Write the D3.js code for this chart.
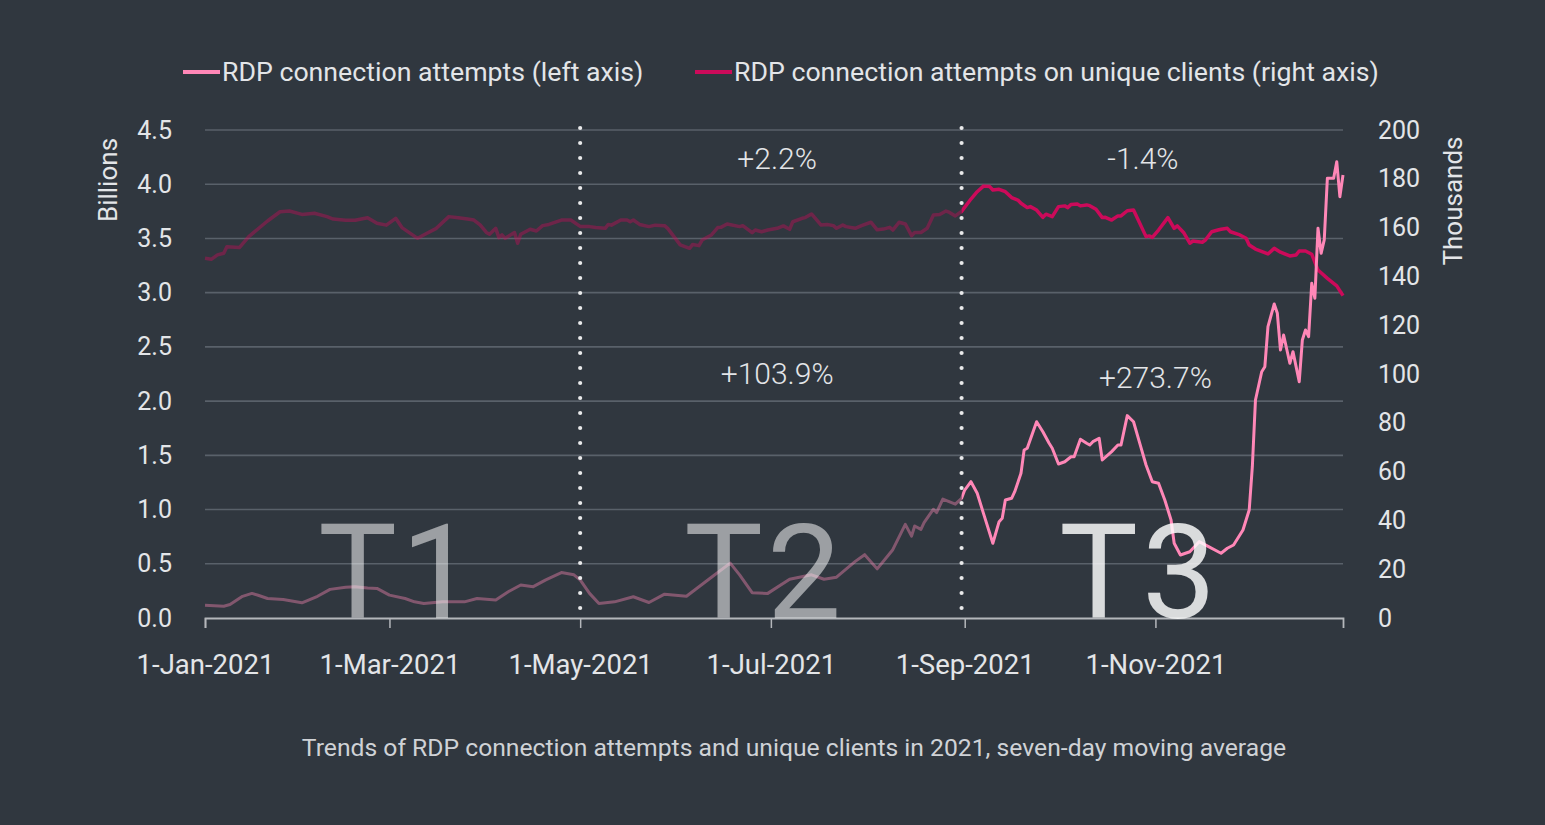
<!DOCTYPE html>
<html>
<head>
<meta charset="utf-8">
<script src="https://cdn.jsdelivr.net/npm/d3@7"></script>
<style>
  html, body { margin: 0; padding: 0; background: #30373f; }
  svg { display: block; }
  text { font-family: Roboto, "Open Sans", sans-serif; }
</style>
</head>
<body>
<svg id="chart" width="1545" height="825"></svg>
<script>
// ---------- DATA ----------
const attemptDates = ["01-01","01-07","01-09","01-13","01-16","01-18","01-21","01-26","02-01","02-06","02-10","02-15","02-18","02-22","02-25","03-01","03-06","03-09","03-12","03-18","03-25","03-29","04-04","04-08","04-12","04-16","04-20","04-25","04-29","05-01","05-04","05-07","05-12","05-18","05-23","05-28","06-04","06-12","06-18","06-21","06-25","06-30","07-07","07-14","07-18","07-22","07-28","07-31","08-04","08-09","08-13","08-15","08-16","08-18","08-19","08-22","08-23","08-25","08-29","08-31","09-01","09-03","09-05","09-07","09-10","09-12","09-13","09-14","09-16","09-17","09-19","09-20","09-21","09-24","09-26","09-28","09-29","10-01","10-03","10-05","10-06","10-08","10-10","10-11","10-12","10-14","10-15","10-18","10-20","10-21","10-23","10-25","10-27","10-29","10-31","11-02","11-04","11-06","11-07","11-09","11-12","11-15","11-18","11-22","11-24","11-26","11-29","12-01","12-02","12-03","12-05","12-06","12-07","12-09","12-10","12-11","12-12","12-14","12-15","12-17","12-18","12-19","12-20","12-21","12-22","12-23","12-24","12-25","12-26","12-28","12-29","12-30","12-31"];
const attemptValues = [0.118,0.109,0.124,0.200,0.227,0.210,0.180,0.171,0.140,0.200,0.264,0.283,0.289,0.276,0.273,0.211,0.180,0.149,0.134,0.149,0.149,0.180,0.165,0.242,0.304,0.289,0.351,0.419,0.398,0.351,0.227,0.134,0.149,0.196,0.143,0.220,0.200,0.376,0.506,0.398,0.233,0.227,0.357,0.398,0.357,0.376,0.522,0.584,0.453,0.630,0.863,0.755,0.848,0.817,0.879,1.003,0.972,1.096,1.050,1.104,1.180,1.257,1.150,0.965,0.689,0.888,0.919,1.088,1.104,1.165,1.334,1.549,1.565,1.810,1.718,1.611,1.565,1.420,1.441,1.487,1.487,1.648,1.611,1.595,1.626,1.657,1.457,1.534,1.595,1.595,1.866,1.810,1.611,1.411,1.257,1.242,1.088,0.904,0.689,0.581,0.611,0.704,0.658,0.597,0.643,0.673,0.812,0.996,1.395,2.010,2.271,2.317,2.686,2.896,2.810,2.471,2.610,2.349,2.456,2.179,2.564,2.656,2.594,3.087,2.948,3.594,3.363,3.486,4.055,4.055,4.208,3.885,4.085];

const clientDates = ["01-01","01-03","01-05","01-07","01-08","01-12","01-15","01-21","01-25","01-28","02-01","02-05","02-09","02-11","02-15","02-18","02-22","02-25","02-28","03-03","03-05","03-10","03-13","03-16","03-20","03-23","03-26","03-28","03-30","04-01","04-02","04-04","04-05","04-06","04-07","04-10","04-11","04-12","04-15","04-17","04-19","04-21","04-25","04-28","05-01","05-04","05-06","05-09","05-10","05-11","05-14","05-16","05-17","05-18","05-20","05-23","05-25","05-28","05-29","05-31","06-02","06-05","06-06","06-08","06-09","06-12","06-14","06-15","06-17","06-21","06-22","06-25","06-26","06-28","06-30","07-03","07-05","07-07","07-08","07-11","07-12","07-14","07-17","07-19","07-21","07-22","07-24","07-25","07-28","07-30","08-02","08-04","08-06","08-08","08-09","08-11","08-13","08-15","08-16","08-18","08-20","08-22","08-24","08-26","08-27","08-29","08-31","09-03","09-05","09-07","09-09","09-10","09-12","09-14","09-16","09-18","09-19","09-21","09-22","09-24","09-26","09-27","09-29","10-01","10-03","10-04","10-05","10-07","10-08","10-10","10-11","10-13","10-15","10-16","10-18","10-20","10-21","10-23","10-25","10-29","10-30","10-31","11-02","11-05","11-07","11-08","11-10","11-12","11-13","11-16","11-17","11-19","11-21","11-22","11-24","11-25","11-28","11-30","12-01","12-03","12-07","12-09","12-11","12-14","12-16","12-17","12-19","12-21","12-23","12-26","12-29","12-31"];
const clientValues = [147.4,147.0,148.8,149.5,152.2,151.8,156.3,162.7,166.5,166.8,165.4,165.9,164.5,163.5,163.0,163.0,164.0,161.8,161.0,163.8,160.0,155.6,157.7,159.7,164.5,164.0,163.5,163.1,161.1,158.0,157.3,159.7,155.9,157.0,155.6,158.0,153.6,157.3,159.3,158.6,160.8,161.3,163.1,163.1,160.5,160.4,160.0,159.7,161.3,161.0,163.1,163.1,162.4,163.1,161.3,160.4,161.0,160.8,159.7,156.3,152.9,151.5,153.1,152.6,154.9,157.0,160.0,160.1,161.5,160.4,160.8,157.9,159.0,158.3,159.0,159.7,160.7,159.3,162.4,163.8,164.1,165.6,161.1,161.3,160.8,159.7,161.1,160.4,159.7,160.8,162.2,159.1,159.4,160.1,159.0,162.2,161.5,156.7,158.0,158.0,159.7,165.2,165.4,166.8,166.3,164.8,166.6,171.7,174.7,177.0,176.8,175.4,175.7,174.7,172.3,171.3,170.0,168.2,168.6,167.2,164.2,165.5,164.5,168.6,168.9,168.2,169.5,169.7,168.9,169.3,169.0,167.5,164.1,164.2,163.1,164.8,164.8,166.9,167.2,156.3,156.6,156.0,159.0,164.1,159.7,160.7,158.0,153.6,154.5,154.0,154.9,158.3,159.0,159.3,159.7,158.3,157.0,155.6,152.9,151.2,149.2,151.5,149.9,148.4,148.8,150.4,150.4,149.1,142.6,139.2,136.1,132.1];

const leftTicks = [0,0.5,1,1.5,2,2.5,3,3.5,4,4.5];
const rightTicks = [0,20,40,60,80,100,120,140,160,180,200];
const xTickDates = ["01-01","03-01","05-01","07-01","09-01","11-01"];
const periodBreaks = ["05-01","08-31"];
const periodLabels = ["T1","T2","T3"];
const periodCenters = ["03-04","06-29","10-27"];
const clientChanges = [{label:"+2.2%", date:"07-03"},{label:"-1.4%", date:"10-28"}];
const attemptChanges = [{label:"+103.9%", date:"07-03"},{label:"+273.7%", date:"11-01"}];
const legendLabels = ["RDP connection attempts (left axis)", "RDP connection attempts on unique clients (right axis)"];
const caption = "Trends of RDP connection attempts and unique clients in 2021, seven-day moving average";

// ---------- SETUP ----------
const parse = s => d3.timeParse("%Y-%m-%d")("2021-" + s);
const attempts = attemptDates.map((d,i) => ({date: parse(d), value: attemptValues[i]}));
const clients = clientDates.map((d,i) => ({date: parse(d), value: clientValues[i]}));

const colors = { bg:"#30373f", grid:"#59616a", text:"#e3e5e8", pink:"#ff87b7", red:"#cc0a5a" };
const L = 205, R = 1343, T = 130, B = 618;

const svg = d3.select("#chart");
svg.append("rect").attr("width",1545).attr("height",825).attr("fill",colors.bg);

const x = d3.scaleTime().domain([parse("01-01"), parse("12-31")]).range([L, R]);
const yL = d3.scaleLinear().domain([0,4.5]).range([B, T]);
const yR = d3.scaleLinear().domain([0,200]).range([B, T]);

// gridlines
svg.append("g").selectAll("line").data(leftTicks.slice(1)).join("line")
  .attr("x1", L).attr("x2", R)
  .attr("y1", d => yL(d)).attr("y2", d => yL(d))
  .attr("stroke", colors.grid).attr("stroke-width", 1.6);

// left axis
const gl = svg.append("g").attr("transform", `translate(${L},0)`)
  .call(d3.axisLeft(yL).tickValues(leftTicks).tickFormat(d3.format(".1f")).tickSize(0).tickPadding(33));
gl.select(".domain").remove();
gl.selectAll("text").attr("fill", colors.text).style("font-size","25px").style("font-family","Roboto, sans-serif");

// right axis
const gr = svg.append("g").attr("transform", `translate(${R},0)`)
  .call(d3.axisRight(yR).tickValues(rightTicks).tickSize(0).tickPadding(35));
gr.select(".domain").remove();
gr.selectAll("text").attr("fill", colors.text).style("font-size","25px").style("font-family","Roboto, sans-serif");

// bottom axis
const gb = svg.append("g").attr("transform", `translate(0,${B})`)
  .call(d3.axisBottom(x).tickValues(xTickDates.map(parse)).tickFormat(d3.timeFormat("%-d-%b-%Y")).tickSize(10).tickPadding(26));
gb.select(".domain").attr("stroke", "#b4b7bb").attr("stroke-width", 1.8);
gb.selectAll(".tick line").attr("stroke", "#b4b7bb").attr("stroke-width", 1.5);
gb.selectAll("text").attr("fill", colors.text).style("font-size","27.5px").style("font-family","Roboto, sans-serif");

// axis titles
svg.append("text").attr("transform","translate(117,180) rotate(-90)")
  .attr("text-anchor","middle").attr("fill",colors.text).style("font-size","26px").text("Billions");
svg.append("text").attr("transform","translate(1462,201) rotate(-90)")
  .attr("text-anchor","middle").attr("fill",colors.text).style("font-size","26px").text("Thousands");

// clip regions: dimmed before last break, bright after
const cut = x(parse(periodBreaks[1]));
const defs = svg.append("defs");
defs.append("clipPath").attr("id","clipDim").append("rect").attr("x",0).attr("y",0).attr("width",cut).attr("height",825);
defs.append("clipPath").attr("id","clipBright").append("rect").attr("x",cut).attr("y",0).attr("width",1545-cut).attr("height",825);

const lineL = d3.line().x(d => x(d.date)).y(d => yL(d.value)).curve(d3.curveLinear);
const lineR = d3.line().x(d => x(d.date)).y(d => yR(d.value)).curve(d3.curveLinear);

function drawSeries(gen, data, color, width) {
  svg.append("path").datum(data).attr("d", gen).attr("fill","none")
    .attr("stroke", color).attr("stroke-width", width).attr("stroke-linejoin","round")
    .attr("opacity", 0.4).attr("clip-path","url(#clipDim)");
  svg.append("path").datum(data).attr("d", gen).attr("fill","none")
    .attr("stroke", color).attr("stroke-width", width).attr("stroke-linejoin","round")
    .attr("clip-path","url(#clipBright)");
}
drawSeries(lineR, clients, colors.red, 3.5);
drawSeries(lineL, attempts, colors.pink, 3);

// period breaks (dotted)
svg.append("g").selectAll("line").data(periodBreaks).join("line")
  .attr("x1", d => x(parse(d))).attr("x2", d => x(parse(d)))
  .attr("y1", T - 2).attr("y2", B + 2)
  .attr("stroke", "#e8e9ea").attr("stroke-width", 4.2)
  .attr("stroke-linecap","round").attr("stroke-dasharray","0 15");

// big period labels
svg.append("g").selectAll("text").data(periodLabels).join("text")
  .attr("x", (d,i) => x(parse(periodCenters[i])))
  .attr("y", B)
  .attr("text-anchor","middle")
  .attr("fill","#ffffff")
  .attr("opacity", (d,i) => i === 2 ? 0.82 : 0.52)
  .style("font-size","132px")
  .style("letter-spacing","4px")
  .text(d => d);

// change annotations
svg.append("g").selectAll("text").data(clientChanges).join("text")
  .attr("x", d => x(parse(d.date))).attr("y", 169)
  .attr("text-anchor","middle").attr("fill",colors.text)
  .style("font-size","30px").style("font-weight","300").text(d => d.label);
svg.append("g").selectAll("text").data(attemptChanges).join("text")
  .attr("x", d => x(parse(d.date))).attr("y", (d,i) => i === 0 ? 384 : 388)
  .attr("text-anchor","middle").attr("fill",colors.text)
  .style("font-size","30px").style("font-weight","300").text(d => d.label);

// legend
const legendColors = [colors.pink, colors.red];
const legendX = [183, 695];
legendLabels.forEach((lab, i) => {
  svg.append("line").attr("x1", legendX[i]).attr("x2", legendX[i] + 37)
    .attr("y1", 72).attr("y2", 72).attr("stroke", legendColors[i]).attr("stroke-width", 4);
  svg.append("text").attr("x", legendX[i] + 39).attr("y", 81)
    .attr("fill", colors.text).style("font-size","26.7px").text(lab);
});

// caption
svg.append("text").attr("x", 794).attr("y", 756).attr("text-anchor","middle")
  .attr("fill","#cfd2d6").style("font-size","24.7px").text(caption);
</script>
</body>
</html>
